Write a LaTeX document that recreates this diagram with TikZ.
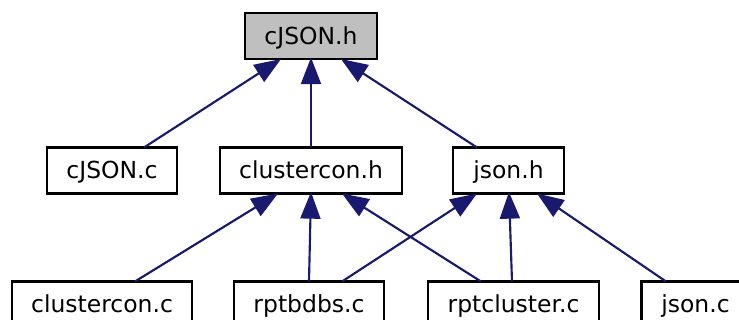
\documentclass[tikz,border=0pt]{standalone}
\usepackage{fontspec}
\setmainfont{DejaVu Sans}
\usetikzlibrary{arrows.meta,calc}
\definecolor{edgeblue}{HTML}{191970}
\definecolor{rootgrey}{HTML}{BFBFBF}
\tikzset{
  fileox/.style={draw=black,line width=1.7pt,fill=white,minimum height=34.5pt,inner sep=0pt,outer sep=0pt,
    text=black,font=\fontsize{17.6pt}{21pt}\selectfont,text height=13pt,text depth=0.4pt,anchor=center},
  dep/.style={draw=edgeblue,line width=1.6pt,-{Triangle[length=20pt,width=15pt,color=edgeblue,fill=edgeblue]}}
}
\begin{document}
\begin{tikzpicture}[x=0.75pt,y=-0.75pt]
\useasboundingbox (0,0) rectangle (739,320);
\clip (0,0) rectangle (739,320);
\node[fileox,fill=rootgrey,minimum width=99pt] (root) at (311,36) {cJSON.h};
\node[fileox,minimum width=97.5pt] (cjc) at (112,170.5) {cJSON.c};
\node[fileox,minimum width=136.5pt] (clh) at (311,170.5) {clustercon.h};
\node[fileox,minimum width=83.25pt] (jh) at (508.5,170.5) {json.h};
\node[fileox,minimum width=135pt] (clc) at (102,304.5) {clustercon.c};
\node[fileox,minimum width=112.5pt] (rb) at (309,304.5) {rptbdbs.c};
\node[fileox,minimum width=128.25pt] (rc) at (513.5,304.5) {rptcluster.c};
\node[fileox,minimum width=81pt] (jc) at (695.5,304.5) {json.c};
\path ($(cjc.north)+(32,0)$) coordinate (e1) ($(root.south)+(-30,0)$) coordinate (t1);
\path ($(clh.north)+(0,0)$) coordinate (e2) ($(root.south)+(0,-1.5)$) coordinate (t2);
\path ($(jh.north)+(-31.5,0)$) coordinate (e3) ($(root.south)+(30,0)$) coordinate (t3);
\path ($(clc.north)+(33,0)$) coordinate (e4) ($(clh.south)+(-33,0)$) coordinate (t4);
\path ($(rb.north)+(0,0)$) coordinate (e5) ($(clh.south)+(0,-1.5)$) coordinate (t5);
\path ($(rc.north)+(-32.5,0)$) coordinate (e6) ($(clh.south)+(31,0)$) coordinate (t6);
\path ($(rb.north)+(33,0)$) coordinate (e7) ($(jh.south)+(-31.5,0)$) coordinate (t7);
\path ($(rc.north)+(-1.5,0)$) coordinate (e8) ($(jh.south)+(0.5,-1.5)$) coordinate (t8);
\path ($(jc.north)+(-29.5,0)$) coordinate (e9) ($(jh.south)+(28.5,0)$) coordinate (t9);
\foreach \i in {1,...,9} \draw[dep] (e\i) -- (t\i);
\end{tikzpicture}
\end{document}
